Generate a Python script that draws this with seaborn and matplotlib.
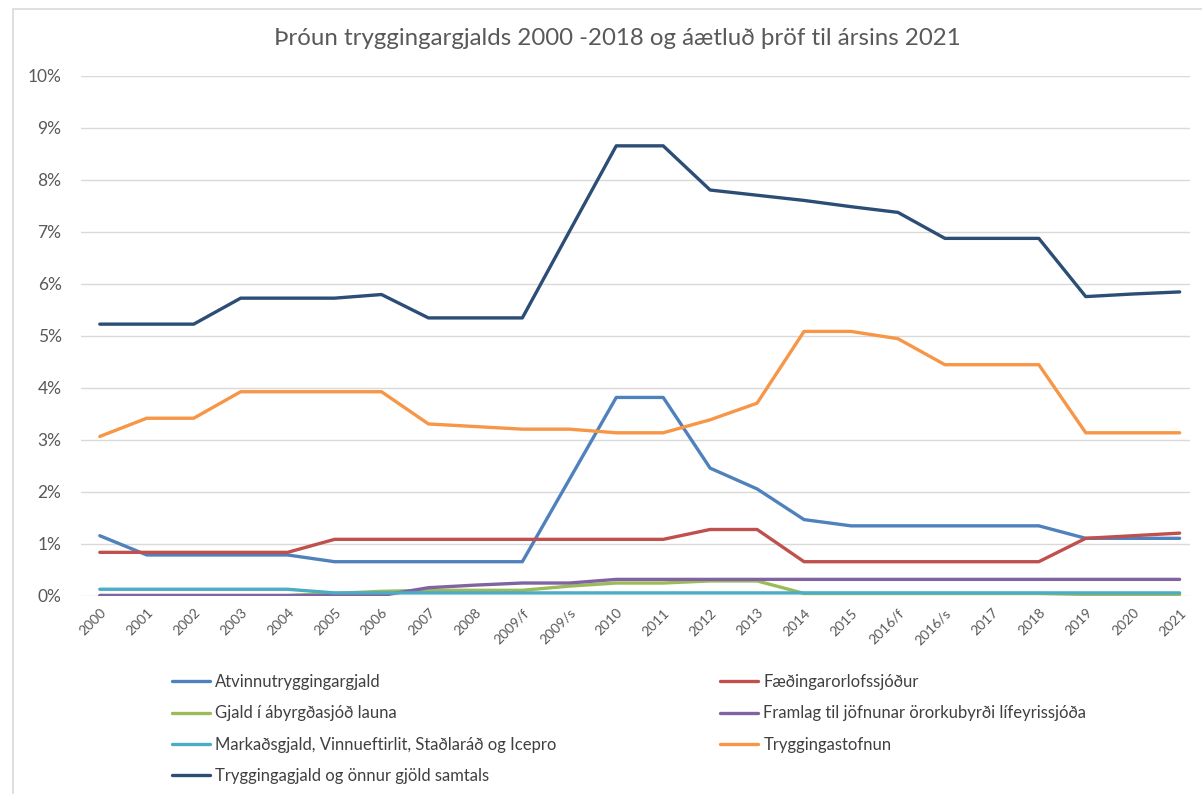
import matplotlib
matplotlib.use("Agg")
import matplotlib.pyplot as plt
import matplotlib.patches as mpatches
from matplotlib.ticker import FuncFormatter
import seaborn as sns
import pandas as pd

# Categories (years, with split years 2009 and 2016)
years = ["2000", "2001", "2002", "2003", "2004", "2005", "2006", "2007", "2008",
         "2009/f", "2009/s", "2010", "2011", "2012", "2013", "2014", "2015",
         "2016/f", "2016/s", "2017", "2018", "2019", "2020", "2021"]

# Series values in percent
atvinnu = [1.15, 0.78, 0.78, 0.78, 0.78, 0.65, 0.65, 0.65, 0.65, 0.65, 2.23, 3.81,
           3.81, 2.45, 2.05, 1.46, 1.34, 1.34, 1.34, 1.34, 1.34, 1.10, 1.10, 1.10]
faedingar = [0.83, 0.83, 0.83, 0.83, 0.83, 1.08, 1.08, 1.08, 1.08, 1.08, 1.08, 1.08,
             1.08, 1.27, 1.27, 0.65, 0.65, 0.65, 0.65, 0.65, 0.65, 1.10, 1.15, 1.20]
abyrgd = [0.0, 0.0, 0.0, 0.0, 0.0, 0.04, 0.08, 0.10, 0.10, 0.10, 0.18, 0.24,
          0.24, 0.28, 0.28, 0.04, 0.04, 0.04, 0.04, 0.04, 0.04, 0.02, 0.02, 0.02]
framlag = [0.0, 0.0, 0.0, 0.0, 0.0, 0.0, 0.0, 0.15, 0.20, 0.24, 0.24, 0.31,
           0.31, 0.31, 0.31, 0.31, 0.31, 0.31, 0.31, 0.31, 0.31, 0.31, 0.31, 0.31]
markads = [0.12, 0.12, 0.12, 0.12, 0.12, 0.05, 0.05, 0.05, 0.05, 0.05, 0.05, 0.05,
           0.05, 0.05, 0.05, 0.05, 0.05, 0.05, 0.05, 0.05, 0.05, 0.05, 0.05, 0.05]
trygginga = [3.06, 3.41, 3.41, 3.92, 3.92, 3.92, 3.92, 3.30, 3.25, 3.20, 3.20, 3.13,
             3.13, 3.38, 3.70, 5.08, 5.08, 4.94, 4.44, 4.44, 4.44, 3.13, 3.13, 3.13]
samtals = [5.22, 5.22, 5.22, 5.72, 5.72, 5.72, 5.79, 5.34, 5.34, 5.34, 7.00, 8.65,
           8.65, 7.80, 7.70, 7.60, 7.48, 7.37, 6.87, 6.87, 6.87, 5.75, 5.80, 5.84]

names = ["Atvinnutryggingargjald", "Fæðingarorlofssjóður", "Gjald í ábyrgðasjóð launa",
         "Framlag til jöfnunar örorkubyrði lífeyrissjóða",
         "Markaðsgjald, Vinnueftirlit, Staðlaráð og Icepro", "Tryggingastofnun",
         "Tryggingagjald og önnur gjöld samtals"]
series = [atvinnu, faedingar, abyrgd, framlag, markads, trygginga, samtals]
colors = ["#4F81BD", "#C0504D", "#9BBB59", "#8064A2", "#4BACC6", "#F79646", "#2C4D75"]

rows = []
for name, vals in zip(names, series):
    for yr, v in zip(years, vals):
        rows.append({"ar": yr, "gildi": v, "lida": name})
df = pd.DataFrame(rows)

sns.set_style("white")
plt.rcParams['font.family'] = ['Lato', 'DejaVu Sans']

fig = plt.figure(figsize=(12.02, 7.94), dpi=100)
ax = fig.add_axes([0.0674, 0.25, 0.9226, 0.6547])

# light chart border
fig.patches.append(mpatches.Rectangle((12.5 / 1202, -0.01), 1.0, 1 - 9 / 794 + 0.01,
                                      transform=fig.transFigure, fill=False,
                                      edgecolor="#D9D9D9", linewidth=1.2))

sns.lineplot(data=df, x="ar", y="gildi", hue="lida", hue_order=names,
             palette=colors, linewidth=2.4, estimator=None, sort=False, ax=ax)

ax.set_ylim(0, 10)
ax.set_xlim(-0.4, len(years) - 1 + 0.22)
ax.set_yticks(range(0, 11))
ax.yaxis.set_major_formatter(FuncFormatter(lambda v, p: f"{int(v)}%"))
ax.grid(axis="y", color="#D9D9D9", linewidth=1)
ax.set_axisbelow(True)
for s in ax.spines.values():
    s.set_visible(False)
ax.tick_params(axis="y", length=0, labelsize=12.5, labelcolor="#595959", pad=14)
ax.tick_params(axis="x", length=0, labelsize=10, labelcolor="#595959", pad=8)
ax.set_xticks(range(len(years)))
ax.set_xticklabels(years, rotation=45, ha="right", rotation_mode="anchor")
ax.set_xlabel("")
ax.set_ylabel("")

fig.text(0.514, 0.951, "Þróun tryggingargjalds 2000 -2018 og áætluð þröf til ársins 2021",
         ha="center", va="center", fontsize=17.3, color="#595959")

handles, labels = ax.get_legend_handles_labels()
ax.get_legend().remove()
leg_kw = dict(loc="upper left", frameon=False, fontsize=12, handlelength=2.3,
              handletextpad=0.3, labelspacing=0.92, borderpad=0, borderaxespad=0)
left_ix = [0, 2, 4, 6]
right_ix = [1, 3, 5]
leg1 = fig.legend([handles[i] for i in left_ix], [labels[i] for i in left_ix],
                  bbox_to_anchor=(172 / 1202, 1 - 674 / 794), **leg_kw)
leg2 = fig.legend([handles[i] for i in right_ix], [labels[i] for i in right_ix],
                  bbox_to_anchor=(720 / 1202, 1 - 674 / 794), **leg_kw)
for lg in (leg1, leg2):
    for t in lg.get_texts():
        t.set_color("#404040")

fig.savefig("out.png", dpi=100)
